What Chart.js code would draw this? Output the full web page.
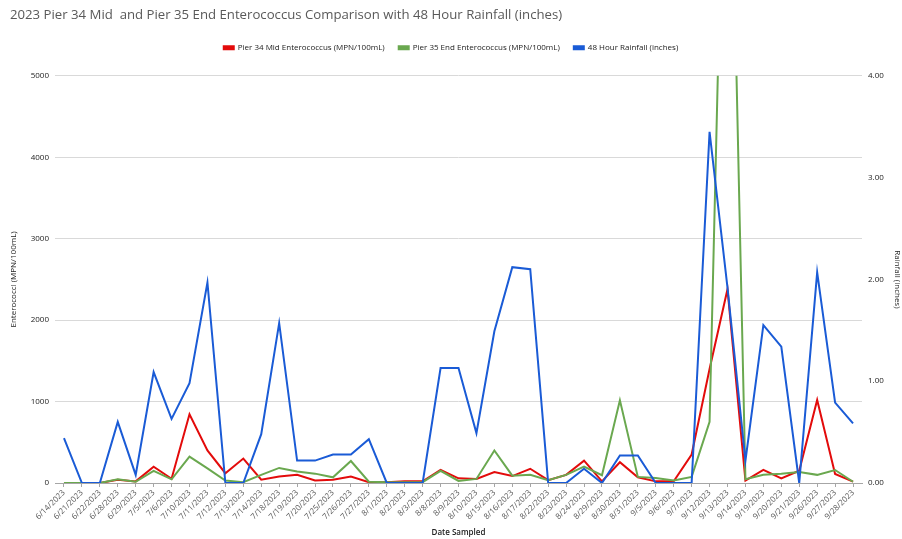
<!DOCTYPE html>
<html>
<head>
<meta charset="utf-8">
<script src="https://cdn.jsdelivr.net/npm/chart.js@4/dist/chart.umd.min.js"></script>
<style>
  html, body { margin: 0; padding: 0; background: #ffffff; }
  #wrap { width: 902px; height: 539px; }
</style>
</head>
<body>
<div id="wrap"><canvas id="chart" width="902" height="539"></canvas></div>
<script>
// Sampling dates
const dates = ['6/14/2023','6/21/2023','6/22/2023','6/28/2023','6/29/2023','7/5/2023','7/6/2023','7/10/2023','7/11/2023','7/12/2023','7/13/2023','7/14/2023','7/18/2023','7/19/2023','7/20/2023','7/25/2023','7/26/2023','7/27/2023','8/1/2023','8/2/2023','8/3/2023','8/8/2023','8/9/2023','8/10/2023','8/15/2023','8/16/2023','8/17/2023','8/22/2023','8/23/2023','8/24/2023','8/29/2023','8/30/2023','8/31/2023','9/5/2023','9/6/2023','9/7/2023','9/12/2023','9/13/2023','9/14/2023','9/19/2023','9/20/2023','9/21/2023','9/26/2023','9/27/2023','9/28/2023'];

// Enterococcus counts (MPN/100mL)
const pier34Mid = [0,0,0,40,20,200,52,845,400,120,300,40,80,100,30,40,80,10,10,20,20,160,57,50,135,85,175,35,100,275,20,255,70,20,20,350,1400,2380,30,160,55,150,1020,110,16];
const pier35End = [0,0,0,45,15,150,45,323,180,30,10,100,185,140,115,70,270,15,10,10,10,150,25,50,400,90,100,35,100,200,95,1015,75,60,30,75,750,10000,45,100,115,135,100,160,15];

// 48 hour rainfall (inches)
const rainfall48h = [0.44,0,0,0.6,0.08,1.09,0.63,0.98,1.97,0,0,0.48,1.57,0.22,0.22,0.28,0.28,0.43,0,0,0,1.13,1.13,0.49,1.49,2.12,2.10,0,0,0.14,0,0.27,0.27,0,0,0,3.45,1.92,0.22,1.55,1.34,0,2.07,0.79,0.585];

// Axis tick settings
const leftTicks = { min: 0, max: 5000, step: 1000 };
const rightTicks = { min: 0, max: 4, step: 1 };

const FONT = "'Open Sans', 'Liberation Sans', sans-serif";
const TEXT = '#595959';

function lineSet(label, data, color, axis, order) {
  return {
    label, data, yAxisID: axis, order,
    borderColor: color, backgroundColor: color,
    borderWidth: 2, pointRadius: 0, pointHoverRadius: 0,
    tension: 0, fill: false
  };
}

// Nudges the title to an indented left edge and leaves a gap under the legend
const layoutTweaks = {
  id: 'layoutTweaks',
  beforeLayout(chart) {
    const lg = chart.legend;
    if (lg && !lg._gapAdded) {
      const fit = lg.fit.bind(lg);
      lg.fit = function () { fit(); if (this.isHorizontal()) this.height += 14; };
      lg._gapAdded = true;
    }
  },
  afterLayout(chart) {
    const t = chart.titleBlock;
    if (t) { t.left = 10; }
  }
};

new Chart(document.getElementById('chart'), {
  type: 'line',
  data: {
    labels: dates,
    datasets: [
      lineSet('Pier 34 Mid Enterococcus (MPN/100mL)', pier34Mid, '#e30b0b', 'y', 2),
      lineSet('Pier 35 End Enterococcus (MPN/100mL)', pier35End, '#6aa84f', 'y', 1),
      lineSet('48 Hour Rainfall (inches)', rainfall48h, '#1a5bd6', 'y1', 0)
    ]
  },
  plugins: [layoutTweaks],
  options: {
    responsive: false,
    animation: false,
    events: [],
    layout: { padding: { left: 0, right: 0, top: 0, bottom: 0 } },
    plugins: {
      tooltip: { enabled: false },
      title: {
        display: true,
        text: '2023 Pier 34 Mid  and Pier 35 End Enterococcus Comparison with 48 Hour Rainfall (inches)',
        align: 'start',
        color: TEXT,
        font: { family: FONT, size: 13.2, weight: 'normal' },
        padding: { top: 7, bottom: 7 }
      },
      legend: {
        display: true,
        position: 'top',
        align: 'center',
        labels: {
          sort: (a, b) => a.datasetIndex - b.datasetIndex,
          boxWidth: 10,
          boxHeight: 3,
          padding: 14,
          color: '#222222',
          font: { family: FONT, size: 8 }
        }
      }
    },
    scales: {
      x: {
        type: 'category',
        offset: true,
        grid: { display: true, drawOnChartArea: false, offset: false, tickLength: 4, color: '#a6a6a6' },
        border: { display: true, color: '#a6a6a6', width: 1 },
        ticks: {
          autoSkip: false, minRotation: 45, maxRotation: 45,
          color: TEXT, font: { family: FONT, size: 8 }, padding: 1
        },
        title: {
          display: true, text: 'Date Sampled', color: '#222222',
          font: { family: FONT, size: 8, weight: '600' }, padding: { top: 0, bottom: 1 }
        },
        afterFit: (s) => { s.height = 56; }
      },
      y: {
        position: 'left',
        min: leftTicks.min, max: leftTicks.max,
        ticks: {
          stepSize: leftTicks.step, color: '#222222', font: { family: FONT, size: 8 }, padding: 6,
          callback: (v) => String(v)
        },
        grid: { color: '#d9d9d9', drawTicks: false },
        border: { display: false },
        title: {
          display: true, text: 'Enterococci (MPN/100mL)', color: '#222222',
          font: { family: FONT, size: 8 }, padding: { top: 9, bottom: 0 }
        },
        afterFit: (s) => { s.width = 55; }
      },
      y1: {
        position: 'right',
        min: rightTicks.min, max: rightTicks.max,
        ticks: {
          stepSize: rightTicks.step, color: '#222222', font: { family: FONT, size: 8 }, padding: 6,
          callback: (v) => Number(v).toFixed(2)
        },
        grid: { drawOnChartArea: false, drawTicks: false },
        border: { display: false },
        title: {
          display: true, text: 'Rainfall (inches)', color: '#222222',
          font: { family: FONT, size: 8 }, padding: { top: 0, bottom: 0 }
        },
        afterFit: (s) => { s.width = 40; }
      }
    }
  }
});
</script>
</body>
</html>
